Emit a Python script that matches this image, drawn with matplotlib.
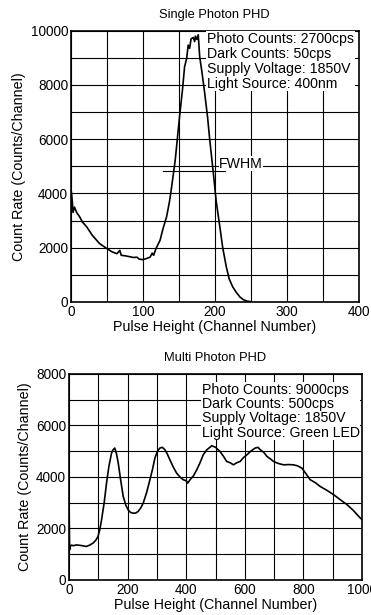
import numpy as np
import matplotlib.pyplot as plt
from matplotlib.ticker import MultipleLocator

plt.rcParams['font.family'] = ['Liberation Sans', 'DejaVu Sans']

# Single photon PHD
sp_ch = [0, 1, 2, 3, 5, 8, 12, 16, 22, 30, 40, 50, 57, 64, 68, 70, 76, 87, 92, 95, 100, 105,
         110, 113, 115, 118, 124, 128, 133, 137, 140, 145, 151, 155, 158, 161, 163, 165, 167,
         170, 172, 173, 175, 177, 179, 182, 186, 190, 193, 198, 202, 207, 211, 216, 220, 225,
         230, 235, 240, 245, 250]
sp_counts = [4180, 4000, 3700, 3300, 3500, 3300, 3150, 2950, 2770, 2450, 2150, 1970, 1850,
             1780, 1900, 1720, 1700, 1640, 1650, 1580, 1560, 1600, 1650, 1800, 1720, 1950, 2280,
             2700, 3140, 3700, 4240, 5230, 6830, 7800, 8670, 9000, 9470, 9350, 9700, 9750, 9600,
             9800, 9680, 9850, 9040, 8500, 7690, 6800, 5970, 4740, 3700, 2770, 2000, 1290, 850,
             550, 350, 180, 80, 30, 10]

# Multi photon PHD
mp_ch = [0, 2, 4, 8, 15, 25, 40, 59, 70, 82, 92, 99, 105, 111, 120, 128, 136, 145, 150, 156,
         162, 168, 176, 185, 194, 202, 210, 219, 228, 236, 245, 253, 265, 276, 285, 293, 302,
         310, 318, 327, 335, 344, 355, 367, 380, 390, 400, 405, 413, 425, 436, 447, 458, 470,
         487, 500, 515, 527, 538, 550, 561, 572, 584, 595, 607, 620, 635, 645, 652, 665, 675,
         687, 698, 715, 732, 750, 766, 780, 795, 810, 823, 840, 857, 880, 903, 925, 949, 970,
         994, 1000]
mp_counts = [3110, 1170, 1300, 1350, 1330, 1360, 1340, 1300, 1350, 1430, 1550, 1690, 1950,
             2330, 3000, 3760, 4400, 4920, 5050, 5120, 4900, 4540, 3900, 3240, 2900, 2720, 2620,
             2590, 2600, 2660, 2800, 2980, 3400, 3890, 4300, 4730, 5000, 5120, 5150, 5060, 4900,
             4670, 4400, 4150, 3980, 3890, 3850, 3760, 3890, 4050, 4280, 4550, 4860, 5050, 5210,
             5150, 4990, 4800, 4600, 4550, 4470, 4550, 4600, 4750, 4860, 5000, 5120, 5150, 5060,
             4950, 4800, 4700, 4600, 4520, 4470, 4480, 4470, 4430, 4340, 4100, 3890, 3780, 3630,
             3480, 3310, 3120, 2920, 2700, 2400, 2350]

sp_info = ["Photo Counts: 2700cps", "Dark Counts: 50cps",
           "Supply Voltage: 1850V", "Light Source: 400nm"]
mp_info = ["Photo Counts: 9000cps", "Dark Counts: 500cps",
           "Supply Voltage: 1850V", "Light Source: Green LED"]

fwhm_y = 4830
fwhm_x = [128, 214]

fig = plt.figure(figsize=(3.71, 6.15), dpi=100)
ax1 = fig.add_axes([0.191, 0.509, 0.776, 0.441])
ax2 = fig.add_axes([0.186, 0.057, 0.790, 0.335])


def style(ax, xmax, ymax, xmajor, xminor, ymajor, yminor):
    ax.set_xlim(0, xmax)
    ax.set_ylim(0, ymax)
    ax.xaxis.set_major_locator(MultipleLocator(xmajor))
    ax.xaxis.set_minor_locator(MultipleLocator(xminor))
    ax.yaxis.set_major_locator(MultipleLocator(ymajor))
    ax.yaxis.set_minor_locator(MultipleLocator(yminor))
    ax.grid(True, which='both', color='black', linewidth=0.8)
    ax.set_axisbelow(True)
    ax.tick_params(which='both', length=0, labelsize=9.8, pad=2)
    for s in ax.spines.values():
        s.set_linewidth(1.2)
    ax.set_xlabel("Pulse Height (Channel Number)", fontsize=10.3, labelpad=1)
    ax.set_ylabel("Count Rate (Counts/Channel)", fontsize=10.3, labelpad=3)


# Top panel
ax1.plot(sp_ch, sp_counts, color='black', linewidth=1.2)
style(ax1, 400, 10000, 100, 50, 2000, 1000)
ax1.set_title("Single Photon PHD", fontsize=9.3, pad=9)
ax1.text(189, 9950, "\n".join(sp_info), fontsize=10.2, va='top', ha='left', linespacing=1.08,
         bbox=dict(facecolor='white', edgecolor='none', pad=0.5))
ax1.plot(fwhm_x, [fwhm_y, fwhm_y], color='black', linewidth=0.8)
ax1.text(206, 5100, "FWHM", fontsize=10.2, va='center', ha='left',
         bbox=dict(facecolor='white', edgecolor='none', pad=0.3))

# Bottom panel
ax2.plot(mp_ch, mp_counts, color='black', linewidth=1.2)
style(ax2, 1000, 8000, 200, 100, 2000, 1000)
ax2.set_title("Multi Photon PHD", fontsize=9.3, pad=9)
ax2.text(453, 7650, "\n".join(mp_info), fontsize=10.2, va='top', ha='left', linespacing=1.02,
         bbox=dict(facecolor='white', edgecolor='none', pad=0.5))

plt.savefig("out.png", dpi=100)
